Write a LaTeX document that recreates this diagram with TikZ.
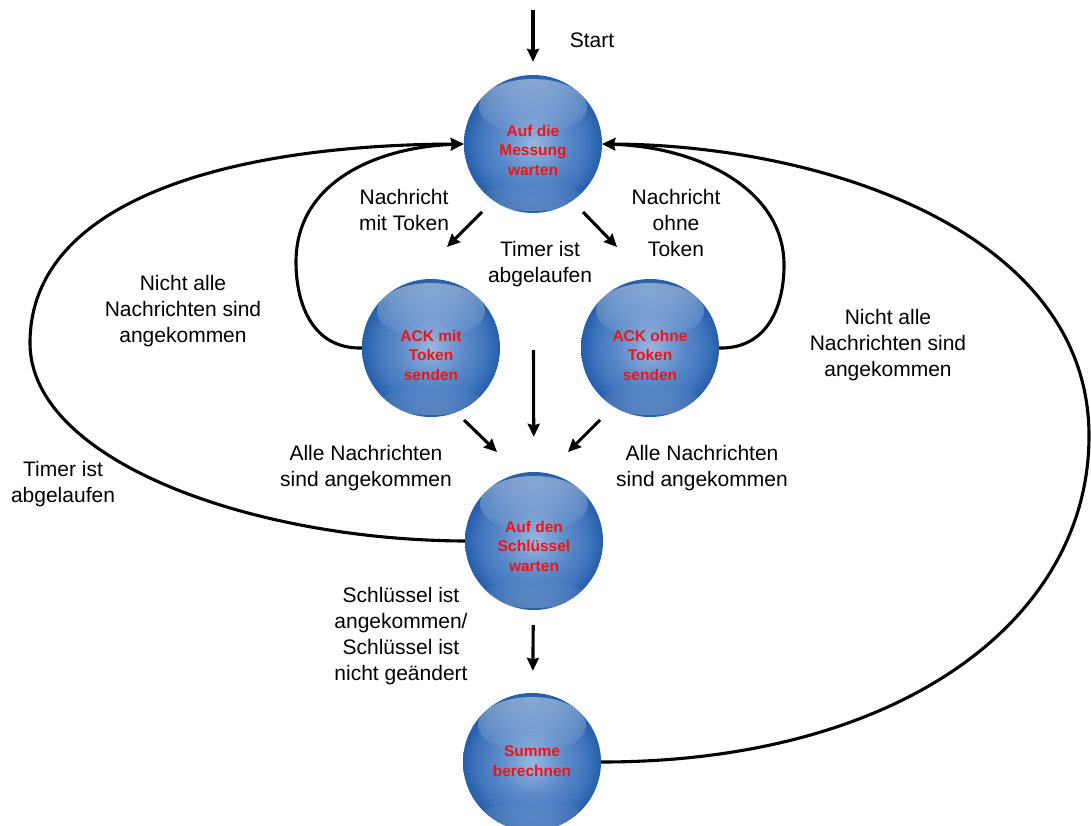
\documentclass[tikz,border=0pt]{standalone}
\usepackage{fontspec}
\setmainfont{Liberation Sans}
\usetikzlibrary{arrows.meta,fadings}
\definecolor{ballc}{RGB}{152,184,225}
\definecolor{ballm}{RGB}{96,141,203}
\definecolor{ballr}{RGB}{64,117,188}
\definecolor{ballout}{RGB}{38,94,170}
\definecolor{labelred}{RGB}{240,20,20}
\pgfdeclareradialshading{ballshade}{\pgfpoint{0bp}{0bp}}{%
  color(0bp)=(ballc); color(11bp)=(ballm); color(20bp)=(ballr);
  color(25bp)=(ballout); color(50bp)=(ballout)}
\begin{document}
\begin{tikzpicture}[x=1pt,y=-1pt,
  ball/.style={circle, minimum size=138pt, inner sep=0pt,
    path picture={
      \shade[shading=ballshade] (path picture bounding box.center) circle[radius=69pt];
      \fill[white, fill opacity=0.42, path fading=south] ([yshift=37pt]path picture bounding box.center) ellipse[x radius=54pt, y radius=28pt];
      \fill[white, fill opacity=0.22, path fading=north] ([yshift=-53pt]path picture bounding box.center) ellipse[x radius=50pt, y radius=14pt];
    }},
  balltext/.style={align=center, text=labelred,
    font=\fontsize{15.5pt}{19.5pt}\selectfont\bfseries},
  lbl/.style={align=center, font=\fontsize{21pt}{26pt}\selectfont},
  arr/.style={line width=3.1pt, -{Stealth[length=13pt,width=12pt,inset=1.5pt]}}
]
\useasboundingbox (0,0) rectangle (1091,825);

% states
\node[ball] (m)   at (533,144) {};
\node[ball] (am)  at (431,348) {};
\node[ball] (ao)  at (650,348) {};
\node[ball] (s)   at (534,541) {};
\node[ball] (sum) at (532,762) {};

\node[balltext] (mt)   at ([yshift=-6pt]m.center)   {Auf die\\Messung\\warten};
\node[balltext] (amt)  at ([yshift=-7pt]am.center)  {ACK mit\\Token\\senden};
\node[balltext] (aot)  at ([yshift=-7pt]ao.center)  {ACK ohne\\Token\\senden};
\node[balltext] (st_)  at ([yshift=-5pt]s.center)   {Auf den\\Schlüssel\\warten};
\node[balltext] (sumt) at ([yshift=1pt]sum.center)  {Summe\\berechnen};

% free ends of the short arrows
\coordinate (st)  at (533,10);
\coordinate (a1)  at (482,212);
\coordinate (a1e) at (447,247);
\coordinate (a2)  at (583,212);
\coordinate (a2e) at (617,247);
\coordinate (b1)  at (464,420);
\coordinate (b1e) at (497,452);
\coordinate (b2)  at (600,420);
\coordinate (b2e) at (568,452);

% straight transitions
\draw[arr, shorten >=13pt] (st) -- (m);
\draw[arr] (a1) -- (a1e);
\draw[arr] (a2) -- (a2e);
\draw[arr, shorten <=137pt, shorten >=35pt] (m) -- (s);
\draw[arr] (b1) -- (b1e);
\draw[arr] (b2) -- (b2e);
\draw[arr, shorten <=15pt, shorten >=22pt] (s) -- (sum);

% loops back to the first state
\draw[arr] (am.west) .. controls (310,349) and (296,300) .. (296,262)
                     .. controls (296,180) and (380,147) .. (m.west);
\draw[arr] (s.west) .. controls (250,540) and (30,460) .. (30,343)
                    .. controls (30,200) and (230,145) .. (m.west);
\draw[arr] (ao.east) .. controls (765,349) and (784,310) .. (784,265)
                     .. controls (784,190) and (700,147) .. (m.east);
\draw[arr] (sum.east) .. controls (900,762) and (1089,620) .. (1089,436)
                      .. controls (1089,230) and (820,145) .. (m.east);

% transition labels
\node[lbl] (lStart) at (592,40) {Start};
\node[lbl] (lmt)  at (404,210) {Nachricht\\mit Token};
\node[lbl] (lot)  at (676,223) {Nachricht\\ohne\\Token};
\node[lbl] (ltm)  at (540,264) {Timer ist\\abgelaufen};
\node[lbl] (lnl)  at (183,311) {Nicht alle\\Nachrichten sind\\angekommen};
\node[lbl] (lnr)  at (888,345) {Nicht alle\\Nachrichten sind\\angekommen};
\node[lbl] (ltl)  at (63,484)  {Timer ist\\abgelaufen};
\node[lbl] (lal)  at (366,468) {Alle Nachrichten\\sind angekommen};
\node[lbl] (lar)  at (702,468) {Alle Nachrichten\\sind angekommen};
\node[lbl] (lsk)  at (401,636) {Schlüssel ist\\angekommen/\\Schlüssel ist\\nicht geändert};
\end{tikzpicture}
\end{document}
